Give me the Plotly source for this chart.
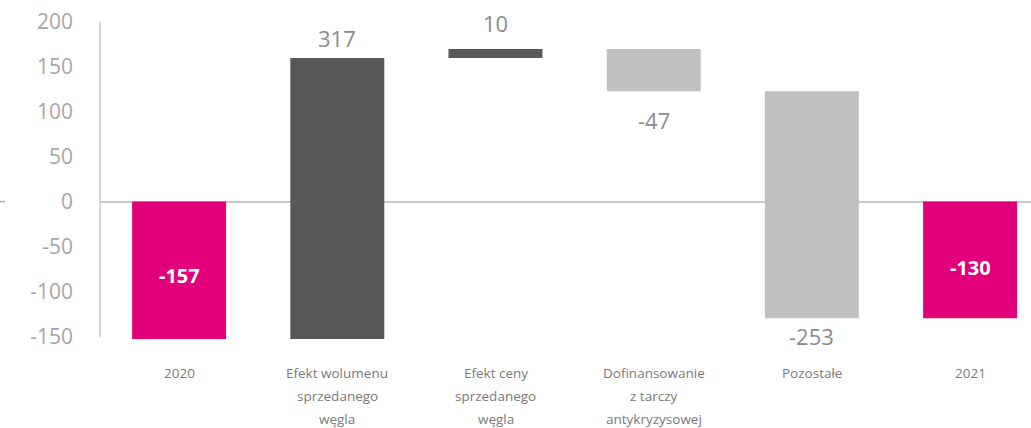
import numpy as np
import plotly.graph_objects as go

# Bridge of the result: 2020 -> 2021
categories = [
    "2020",
    "Efekt wolumenu<br>sprzedanego<br>węgla",
    "Efekt ceny<br>sprzedanego<br>węgla",
    "Dofinansowanie<br>z tarczy<br>antykryzysowej",
    "Pozostałe",
    "2021",
]
measures = ["absolute", "relative", "relative", "relative", "relative", "total"]
values = [-157, 317, 10, -47, -253, -130]
y_ticks = [-150, -100, -50, 0, 50, 100, 150, 200]

# styling
MAGENTA = "#e2007a"
DARK = "#58585a"
LIGHT = "#c0c0c0"
AXIS_GRAY = "#c8c8c8"
FONT = "Open Sans"
label_shift = [-3, 20, 26, -29, -18, -8]   # px offsets of the value labels
line_gap = 23                                # px between category label lines

x = list(range(len(categories)))

fig = go.Figure()
fig.add_trace(go.Waterfall(
    x=x,
    y=values,
    measure=measures,
    width=0.594,
    increasing=dict(marker=dict(color=DARK)),
    decreasing=dict(marker=dict(color=LIGHT)),
    totals=dict(marker=dict(color=MAGENTA)),
    connector=dict(visible=False),
    textposition="none",
    hoverinfo="skip",
))

# running totals to anchor the labels
deltas = [v if m == "relative" else 0 for v, m in zip(values, measures)]
ends = []
level = 0
for v, m in zip(values, measures):
    if m == "absolute":
        level = v
    elif m == "relative":
        level += v
    ends.append(level)

annotations = []
for i, (v, m) in enumerate(zip(values, measures)):
    if m == "relative":
        annotations.append(dict(
            x=i, y=ends[i], xref="x", yref="y", text=f"{v}",
            showarrow=False, yanchor="middle", yshift=label_shift[i],
            font=dict(family=FONT, size=22, color="#8c8c8c"),
        ))
    else:
        annotations.append(dict(
            x=i, y=v / 2, xref="x", yref="y", text=f"<b>{v}</b>",
            showarrow=False, yanchor="middle", yshift=label_shift[i],
            font=dict(family=FONT, size=20, color="white"),
        ))

# category labels below the plot area
for i, cat in enumerate(categories):
    for j, line in enumerate(cat.split("<br>")):
        annotations.append(dict(
            x=i, y=0, xref="x", yref="paper", text=line,
            showarrow=False, yanchor="middle", xanchor="center",
            yshift=-(34 + line_gap * j),
            font=dict(family=FONT, size=13.5, color="#7a7a7a"),
        ))

shapes = [
    # left axis line
    dict(type="line", xref="paper", yref="y", x0=0, x1=0, y0=-151, y1=200,
         line=dict(color=AXIS_GRAY, width=1.5), layer="above"),
    # short marker left of the zero tick
    dict(type="line", xref="paper", yref="y", x0=-100 / 931, x1=-95 / 931, y0=0, y1=0,
         line=dict(color="#b0b0b0", width=1.5)),
]

fig.update_layout(
    width=1031,
    height=428,
    margin=dict(l=100, r=0, t=22, b=89),
    paper_bgcolor="white",
    plot_bgcolor="white",
    showlegend=False,
    annotations=annotations,
    shapes=shapes,
    xaxis=dict(
        range=[-0.5, 5.385],
        showticklabels=False,
        showgrid=False,
        zeroline=False,
        showline=False,
        ticks="",
        fixedrange=True,
    ),
    yaxis=dict(
        range=[-153, 200],
        tickvals=y_ticks,
        ticktext=[str(t) for t in y_ticks],
        tickfont=dict(family=FONT, size=21, color="#a6a6a6"),
        showgrid=False,
        zeroline=True,
        zerolinecolor=AXIS_GRAY,
        zerolinewidth=1.5,
        showline=False,
        ticks="",
        ticklabelstandoff=26,
        fixedrange=True,
    ),
)

fig.write_html("out.html")
